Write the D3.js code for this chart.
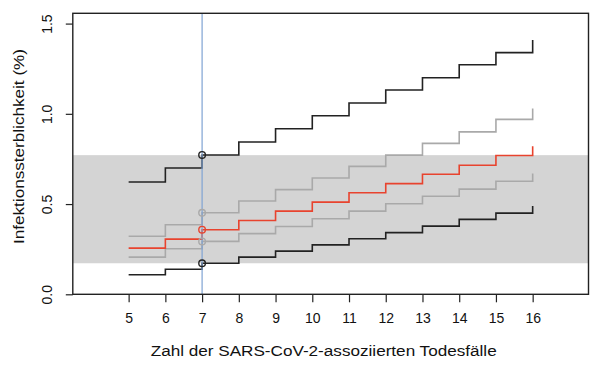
<!DOCTYPE html>
<html><head><meta charset="utf-8">
<script src="https://cdn.jsdelivr.net/npm/d3@7"></script>
<style>body{margin:0;background:#fff}svg{display:block}text{font-family:"Liberation Sans",Arial,Helvetica,sans-serif;fill:#111}</style>
</head><body><svg id="c" width="600" height="367"></svg>
<script>
const deaths = [5,6,7,8,9,10,11,12,13,14,15,16];
const upperBlack = [0.622,0.700,0.772,0.844,0.917,0.989,1.060,1.132,1.200,1.272,1.339,1.409];
const upperGray  = [0.322,0.385,0.452,0.517,0.580,0.644,0.709,0.771,0.836,0.900,0.969,1.030];
const central    = [0.256,0.306,0.358,0.409,0.461,0.511,0.563,0.613,0.665,0.715,0.769,0.820];
const lowerGray  = [0.206,0.252,0.293,0.336,0.376,0.419,0.461,0.502,0.543,0.583,0.626,0.669];
const lowerBlack = [0.108,0.139,0.172,0.206,0.239,0.274,0.308,0.342,0.378,0.415,0.450,0.489];
const band = [0.172, 0.771];
const markedDeaths = 7;
const yTicks = [0, 0.5, 1.0, 1.5];
const xTitle = "Zahl der SARS-CoV-2-assoziierten Todesfälle";
const yTitle = "Infektionssterblichkeit (%)";

const svg = d3.select("#c");
const L = 72.8, R = 588.5, T = 13.3, B = 294.3;
const x = d3.scaleLinear().domain([3.48, 17.52]).range([L, R]);
const y = d3.scaleLinear().domain([0, 1.557]).range([B, T]);

svg.append("rect").attr("x", L).attr("width", R - L)
  .attr("y", y(band[1])).attr("height", y(band[0]) - y(band[1]))
  .attr("fill", "#d4d4d4");

const series = [
  {v: upperGray, c: "#a9a9a9"},
  {v: lowerGray, c: "#a9a9a9"},
  {v: central, c: "#e8432e"},
  {v: upperBlack, c: "#222"},
  {v: lowerBlack, c: "#222"}
];
const line = d3.line().x(d => x(d[0])).y(d => y(d[1])).curve(d3.curveStepAfter);
series.forEach(s => {
  svg.append("path").datum(deaths.map((d, i) => [d, s.v[i]]))
    .attr("d", line).attr("fill", "none").attr("stroke", s.c).attr("stroke-width", 1.6);
});

svg.append("line").attr("x1", x(markedDeaths)).attr("x2", x(markedDeaths))
  .attr("y1", T).attr("y2", B).attr("stroke", "#7fa2d3").attr("stroke-width", 1.2);

const mi = deaths.indexOf(markedDeaths);
series.forEach(s => {
  svg.append("circle").attr("cx", x(markedDeaths)).attr("cy", y(s.v[mi])).attr("r", 3.3)
    .attr("fill", "none").attr("stroke", s.c).attr("stroke-width", 1.4);
});

svg.append("rect").attr("x", L).attr("y", T).attr("width", R - L).attr("height", B - T)
  .attr("fill", "none").attr("stroke", "#222").attr("stroke-width", 1.4);

const xAxis = svg.append("g").attr("transform", `translate(0,${B})`)
  .call(d3.axisBottom(x).tickValues(deaths).tickSize(8).tickPadding(11).tickFormat(d3.format("d")));
xAxis.select(".domain").remove();
xAxis.selectAll("line").attr("stroke", "#222").attr("stroke-width", 1.2);
xAxis.selectAll("text").attr("font-size", 14).attr("fill", "#111")
  .style("font-family", '"Liberation Sans",Arial,sans-serif');

const yAxis = svg.append("g").attr("transform", `translate(${L},0)`)
  .call(d3.axisLeft(y).tickValues(yTicks).tickSize(7).tickFormat(d3.format(".1f")));
yAxis.select(".domain").remove();
yAxis.selectAll("line").attr("stroke", "#222").attr("stroke-width", 1.2);
yAxis.selectAll("text").remove();
yAxis.selectAll(".tick").append("text")
  .attr("transform", "translate(-26,0) rotate(-90)")
  .attr("text-anchor", "middle").attr("dy", "0.35em")
  .attr("font-size", 14).attr("fill", "#111")
  .style("font-family", '"Liberation Sans",Arial,sans-serif')
  .text(d => d3.format(".1f")(d));

svg.append("text").attr("x", 323.7).attr("y", 355.5).attr("text-anchor", "middle")
  .attr("font-size", 15.5).attr("textLength", 346).attr("lengthAdjust", "spacingAndGlyphs").text(xTitle);
svg.append("text").attr("transform", `translate(23.5,146.5) rotate(-90)`)
  .attr("text-anchor", "middle").attr("font-size", 15.5)
  .attr("textLength", 195).attr("lengthAdjust", "spacingAndGlyphs").text(yTitle);
</script></body></html>
